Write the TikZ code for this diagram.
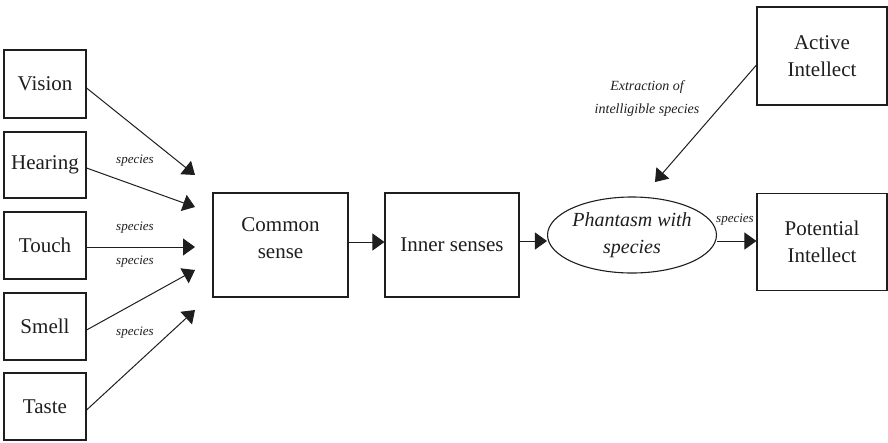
\documentclass[tikz,border=0pt]{standalone}
\usepackage{fontspec}
\setmainfont{Liberation Serif}
\usetikzlibrary{arrows.meta,shapes.geometric}
\definecolor{ink}{RGB}{30,30,30}
\tikzset{
  box/.style={draw=ink, line width=1.1pt, rectangle, inner sep=0pt, text=ink,
    font=\rmfamily\fontsize{21}{27}\selectfont, align=center},
  conn/.style={draw=ink, line width=1pt, -{Triangle[length=12pt,width=17pt]}},
  lbl/.style={text=ink, font=\rmfamily\fontsize{13}{15}\selectfont\itshape, inner sep=0pt},
}
\begin{document}
\begin{tikzpicture}[x=1pt,y=-1pt]
\useasboundingbox (0,0) rectangle (888,442);
% sense boxes
\node[box, minimum width=82, minimum height=68] (vision) at (45,84) {Vision};
\node[box, minimum width=82, minimum height=66] (hearing) at (45,165) {Hearing};
\node[box, minimum width=82, minimum height=67] (touch) at (45,245.5) {Touch};
\node[box, minimum width=82, minimum height=67] (smell) at (45,326.5) {Smell};
\node[box, minimum width=82, minimum height=67] (taste) at (45,406.5) {Taste};
% arrow ends near common sense
\coordinate (e1) at (195,175);
\coordinate (e2) at (195,207);
\coordinate (e3) at (195,247);
\coordinate (e4) at (195,270);
\coordinate (e5) at (195,310);
\draw[conn] ([yshift=-4pt]vision.east) -- (e1);
\draw[conn] ([yshift=-3pt]hearing.east) -- (e2);
\draw[conn] ([yshift=-1.5pt]touch.east) -- (e3);
\draw[conn] ([yshift=-3.5pt]smell.east) -- (e4);
\draw[conn] ([yshift=-3.5pt]taste.east) -- (e5);
\node[lbl] (l1) at (135,161) {species};
\node[lbl] (l2) at (135,228) {species};
\node[lbl] (l3) at (135,262) {species};
\node[lbl] (l4) at (135,333) {species};
% main chain
\node[box, minimum width=135, minimum height=104, text depth=14pt] (common) at (280.5,245) {Common\\sense};
\node[box, minimum width=134, minimum height=104] (inner) at (452,245) {Inner senses};
\node[draw=ink, line width=1.1pt, ellipse, minimum width=168, minimum height=76, inner sep=0pt,
  text=ink, font=\rmfamily\fontsize{20}{27}\selectfont\itshape, align=center] (phant) at (632,235) {Phantasm with\\species};
\node[box, minimum width=130, minimum height=97] (potential) at (822,242) {Potential\\Intellect};
\node[box, minimum width=130, minimum height=98] (active) at (822,56) {Active\\Intellect};
\coordinate (ex) at (655,182);
\draw[conn] ([yshift=3pt]common.east) -- ([yshift=3pt]inner.west);
\draw[conn] ([yshift=4pt]inner.east) -- ([yshift=-6pt]phant.west);
\draw[conn] ([yshift=-6pt]phant.east) -- ([yshift=1pt]potential.west);
\draw[conn] ([yshift=-9pt]active.west) -- (ex);
\node[lbl] (l5) at (735,220) {species};
\node[lbl, font=\rmfamily\fontsize{14}{23}\selectfont\itshape, align=center] (extr) at (647,99) {Extraction of\\intelligible species};
\end{tikzpicture}
\end{document}
